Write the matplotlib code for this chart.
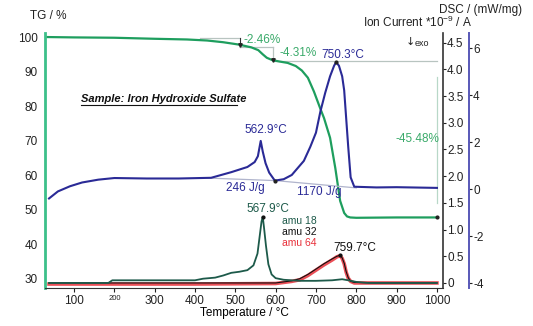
import numpy as np
import matplotlib
matplotlib.use("Agg")
import matplotlib.pyplot as plt

# TG curve (%)
tg_T = [35, 100, 200, 300, 380, 430, 470, 510, 540, 557, 568, 578, 592, 610, 630,
        650, 665, 680, 695, 710, 720, 735, 748, 760, 770, 777, 785, 800, 900, 1000]
tg_val = [100, 99.9, 99.8, 99.5, 99.3, 99.0, 98.5, 97.8, 97.0, 96.2, 95.0, 94.0, 93.3, 92.9, 92.5,
          91.6, 90.3, 88.2, 84.2, 79.5, 76.5, 70.8, 62.0, 52.5, 49.0, 48.0, 47.7, 47.6, 47.7, 47.7]

# DSC curve (mW/mg)
dsc_T = [38, 60, 90, 120, 160, 200, 280, 360, 440, 490, 530, 548, 556, 563, 568, 575, 584, 598,
         620, 640, 655, 670, 686, 700, 711, 723, 735, 745, 750, 757, 765, 770, 775, 780, 786,
         795, 850, 900, 1000]
dsc_val = [-0.4, -0.1, 0.12, 0.28, 0.4, 0.47, 0.45, 0.45, 0.48, 0.72, 0.94, 1.15, 1.4, 2.05, 1.6,
           1.1, 0.7, 0.36, 0.42, 0.6, 0.9, 1.2, 1.8, 2.4, 3.3, 4.1, 4.8, 5.25, 5.4, 5.25, 4.8,
           4.2, 3.0, 1.8, 0.5, 0.1, 0.07, 0.08, 0.05]

# ion currents (*1e-9 A)
ms18_T = [38, 185, 195, 400, 420, 450, 470, 490, 510, 530, 545, 555, 560, 565, 568, 571, 576,
          582, 590, 600, 620, 660, 700, 740, 765, 780, 800, 830, 900, 1000]
ms18_val = [0.0, 0.0, 0.05, 0.05, 0.08, 0.1, 0.14, 0.19, 0.21, 0.24, 0.33, 0.55, 0.85, 1.15,
            1.24, 1.05, 0.7, 0.35, 0.16, 0.09, 0.06, 0.04, 0.04, 0.05, 0.07, 0.05, 0.02, 0.0,
            0.0, 0.0]
ms64_T = [38, 200, 400, 600, 640, 660, 680, 700, 720, 740, 752, 760, 765, 770, 775, 780, 786,
          795, 850, 1000]
ms64_val = [-0.02, -0.02, -0.02, -0.01, 0.03, 0.06, 0.14, 0.24, 0.34, 0.43, 0.49, 0.51, 0.46,
            0.36, 0.2, 0.09, 0.03, 0.0, 0.0, 0.0]
ms32_T = [38, 200, 400, 600, 640, 660, 680, 700, 720, 740, 752, 760, 765, 770, 775, 780, 786,
          795, 850, 1000]
ms32_val = [0.0, 0.0, 0.0, 0.0, 0.04, 0.08, 0.16, 0.26, 0.36, 0.45, 0.5, 0.52, 0.47, 0.37,
            0.21, 0.1, 0.03, 0.01, 0.0, 0.0]

# step evaluation levels
steps_T = [413, 512, 594, 1001]
steps_tg = [99.6, 97.2, 93.0]

green = "#1e9e5e"
green_txt = "#3aaa6a"
blue = "#2a2a96"
teal = "#1d5a4a"
red = "#e8303a"

plt.rcParams['font.family'] = ['Liberation Sans', 'DejaVu Sans']
plt.rcParams['axes.unicode_minus'] = False
plt.rcParams['mathtext.fontset'] = 'custom'
plt.rcParams['mathtext.rm'] = 'Liberation Sans'
fig = plt.figure(figsize=(5.33, 3.26), dpi=100)
ax = fig.add_axes([0.0844, 0.1166, 0.7467, 0.782])
ax_ms = ax.twinx()
ax_dsc = ax.twinx()

# TG
ax.plot(tg_T, tg_val, color=green, lw=1.6, zorder=3)
ax.set_xlim(28, 1015)
ax.set_ylim(27.25, 101.16)
ax.set_yticks([30, 40, 50, 60, 70, 80, 90, 100])
ax.tick_params(axis='y', length=0, pad=5, labelsize=8.5, colors='#222222')
ax.set_xticks([100, 200, 300, 400, 500, 600, 700, 800, 900, 1000])
ax.tick_params(axis='x', length=3, pad=2, labelsize=8.5, colors='#222222')
for lbl in ax.get_xticklabels():
    if lbl.get_text() == '200':
        lbl.set_fontsize(5.5)
ax.spines['left'].set_color('#3cc08a')
ax.spines['left'].set_linewidth(2)
ax.spines['top'].set_visible(False)
ax.spines['right'].set_visible(False)
ax.spines['bottom'].set_color('#333333')
ax.set_xlabel('Temperature / °C', fontsize=8.5, labelpad=0)

# step lines
gl = '#b8c4c0'
ax.plot([steps_T[0], steps_T[1]], [steps_tg[0], steps_tg[0]], color=gl, lw=0.9)
ax.plot([steps_T[1], steps_T[1]], [steps_tg[0], steps_tg[1]], color='#333333', lw=0.8)
ax.plot([steps_T[1], steps_T[2]], [steps_tg[1], steps_tg[1]], color=gl, lw=0.9)
ax.plot([steps_T[2], steps_T[2]], [steps_tg[1], steps_tg[2]], color=gl, lw=0.9)
ax.plot([steps_T[2], steps_T[3]], [steps_tg[2], steps_tg[2]], color=gl, lw=0.9)
ax.plot([steps_T[3], steps_T[3]], [88.5, 52.0], color='#b8d8c8', lw=0.9)
ax.plot(steps_T[1:3], [97.6, 93.3], 'v', color='#222222', ms=2.5, zorder=4)
ax.plot([1000], [47.7], 'o', color='#222222', ms=2, zorder=4)

# DSC
ax_dsc.plot(dsc_T, dsc_val, color=blue, lw=1.5, zorder=3)
ax_dsc.plot([430, 600], [0.47, 0.36], color='#b0b4cc', lw=0.9)
ax_dsc.plot([600, 800], [0.36, 0.05], color='#b0b4cc', lw=0.9)
ax_dsc.plot([750.3, 598], [5.4, 0.34], 'o', color='#222222', ms=2, zorder=4)
ax_dsc.set_ylim(-4.21, 6.64)
ax_dsc.set_yticks([-4, -2, 0, 2, 4, 6])
ax_dsc.spines['right'].set_position(('outward', 18.7))
ax_dsc.spines['right'].set_color('#5858b8')
ax_dsc.spines['right'].set_linewidth(1.4)
for s in ['left', 'top', 'bottom']:
    ax_dsc.spines[s].set_visible(False)
ax_dsc.tick_params(axis='y', length=2, pad=1, labelsize=8.5, colors='#222222')

# MS
ax_ms.plot(ms64_T, ms64_val, color=red, lw=2.6, zorder=2, alpha=0.85)
ax_ms.plot(ms32_T, ms32_val, color='#111111', lw=0.8, zorder=3)
ax_ms.plot(ms18_T, ms18_val, color=teal, lw=1.3, zorder=4)
ax_ms.plot([567.9, 759.7], [1.24, 0.52], 'o', color='#111111', ms=2, zorder=5)
ax_ms.set_ylim(-0.094, 4.68)
ax_ms.set_yticks([0, 0.5, 1.0, 1.5, 2.0, 2.5, 3.0, 3.5, 4.0, 4.5])
ax_ms.set_yticklabels(['0', '0.5', '1.0', '1.5', '2.0', '2.5', '3.0', '3.5', '4.0', '4.5'])
ax_ms.spines['right'].set_color('#333333')
ax_ms.spines['right'].set_linewidth(1.2)
for s in ['left', 'top', 'bottom']:
    ax_ms.spines[s].set_visible(False)
ax_ms.tick_params(axis='y', length=2, pad=1, labelsize=8.5, colors='#222222')

# texts in figure pixels
W, H = 533, 326
def ftext(x, y, s, **kw):
    fig.text(x / W, 1 - y / H, s, va='center', **kw)

ftext(30, 16, 'TG / %', fontsize=8.5, color='#222222')
ftext(439, 10, 'DSC / (mW/mg)', fontsize=8.5, color='#222222')
ftext(363, 22, 'Ion Current *10$^{-9}$ / A', fontsize=8.5, color='#222222')
ftext(406, 42, '↓', fontsize=8, color='#222222', family=['DejaVu Sans'])
ftext(415, 43, 'exo', fontsize=6.5, color='#222222')
ftext(243, 40, '-2.46%', fontsize=8.5, color=green_txt)
ftext(279, 53, '-4.31%', fontsize=8.5, color=green_txt)
ftext(395, 139, '-45.48%', fontsize=8.5, color=green_txt)
ftext(321, 55, '750.3°C', fontsize=8.5, color=blue)
ftext(244, 130, '562.9°C', fontsize=8.5, color=blue)
ftext(226, 188, '246 J/g', fontsize=8.5, color=blue)
ftext(297, 192, '1170 J/g', fontsize=8.5, color=blue)
ftext(246, 209, '567.9°C', fontsize=8.5, color=teal)
ftext(282, 221, 'amu 18', fontsize=7.5, color=teal)
ftext(282, 232, 'amu 32', fontsize=7.5, color='#111111')
ftext(282, 243, 'amu 64', fontsize=7.5, color=red)
ftext(333, 248, '759.7°C', fontsize=8.5, color='#111111')
ftext(81, 99, 'Sample: Iron Hydroxide Sulfate', fontsize=8, color='#111111',
      fontweight='bold', fontstyle='italic')
fig.add_artist(plt.Line2D([81 / W, 237 / W], [1 - 105 / H, 1 - 105 / H],
                          color='#111111', lw=0.8))

fig.savefig('out.png', dpi=100)
